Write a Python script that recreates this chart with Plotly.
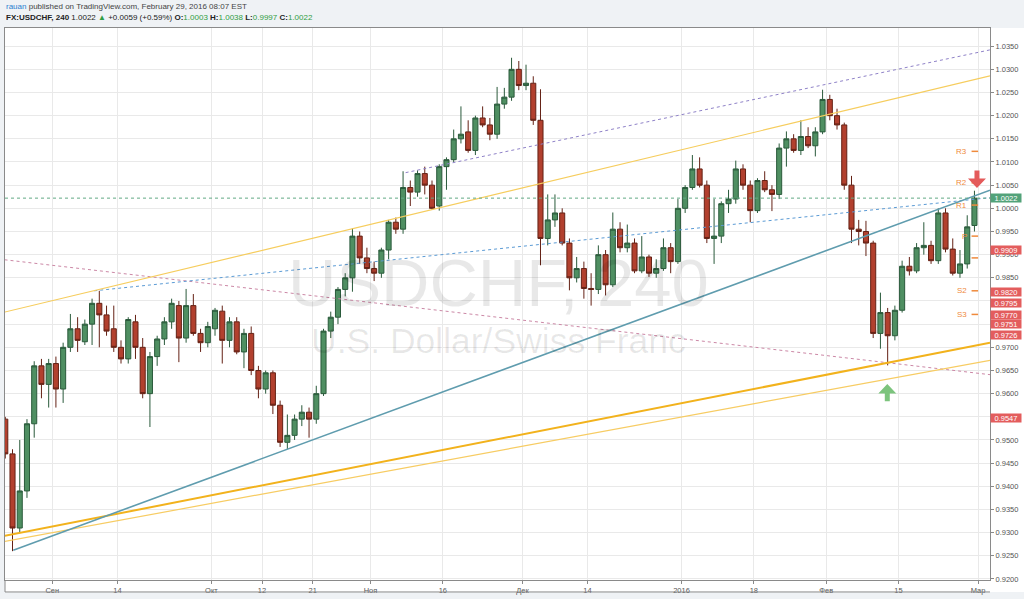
import plotly.graph_objects as go
import pandas as pd

# ---------------- data ----------------
# trading days shown on the chart (weekdays; no bars on Dec 25 / Jan 1)
days = [d for d in pd.bdate_range("2015-08-21", "2016-02-29")
        if d.strftime("%m-%d") not in ("12-25", "01-01")]

opens = [0.9545, 0.9470, 0.9310, 0.9390, 0.9535, 0.9660, 0.9620,
         0.9665, 0.9610, 0.9700, 0.9740, 0.9712, 0.9750, 0.9795, 0.9770, 0.9740, 0.9700, 0.9675, 0.9755, 0.9700, 0.9600,
         0.9680, 0.9718, 0.9755, 0.9790, 0.9720, 0.9790, 0.9730, 0.9710,
         0.9740, 0.9778, 0.9715, 0.9755, 0.9690, 0.9730, 0.9650, 0.9610, 0.9645, 0.9575, 0.9495, 0.9510, 0.9545, 0.9560,
         0.9545, 0.9600, 0.9735, 0.9765, 0.9825, 0.9850, 0.9940, 0.9893,
         0.9870, 0.9860, 0.9910, 0.9970, 0.9955, 1.0045, 1.0035, 1.0075, 1.0050, 1.0005, 1.0090, 1.0105, 1.0150, 1.0165,
         1.0125, 1.0195, 1.0180, 1.0160, 1.0225, 1.0240, 1.0300,
         1.0265, 1.0270, 1.0190, 0.9935, 0.9975, 0.9990, 0.9925, 0.9850, 0.9870, 0.9827, 0.9825, 0.9900, 0.9835, 0.9955,
         0.9915, 0.9925, 0.9865, 0.9895, 0.9860, 0.9870, 0.9915, 0.9885,
         1.0000, 1.0045, 1.0085, 1.0050, 0.9935, 0.9940, 1.0010, 1.0020, 1.0085, 1.0050, 0.9995, 1.0060, 1.0040, 1.0030,
         1.0130, 1.0150, 1.0125, 1.0155, 1.0135, 1.0165,
         1.0235, 1.0200, 1.0180, 1.0050, 0.9955, 0.9950, 0.9925, 0.9730, 0.9775, 0.9725, 0.9780, 0.9875, 0.9865, 0.9915,
         0.9920, 0.9887, 0.9990, 0.9912, 0.9860, 0.9880, 0.9963]
highs = [0.9550, 0.9480, 0.9500, 0.9545, 0.9670, 0.9675, 0.9675,
         0.9680, 0.9710, 0.9772, 0.9765, 0.9760, 0.9805, 0.9822, 0.9790, 0.9790, 0.9715, 0.9765, 0.9770, 0.9720, 0.9690,
         0.9725, 0.9765, 0.9805, 0.9800, 0.9826, 0.9815, 0.9740, 0.9755,
         0.9785, 0.9790, 0.9765, 0.9765, 0.9740, 0.9745, 0.9660, 0.9650, 0.9650, 0.9585, 0.9555, 0.9555, 0.9575, 0.9570,
         0.9617, 0.9740, 0.9777, 0.9830, 0.9860, 0.9957, 0.9950, 0.9915,
         0.9885, 0.9915, 0.9975, 0.9980, 1.0080, 1.0060, 1.0082, 1.0090, 1.0060, 1.0095, 1.0110, 1.0170, 1.0220, 1.0190,
         1.0200, 1.0220, 1.0195, 1.0262, 1.0260, 1.0325, 1.0318,
         1.0310, 1.0285, 1.0257, 1.0030, 1.0030, 1.0000, 0.9935, 0.9895, 0.9885, 0.9860, 0.9920, 0.9910, 0.9991, 0.9970,
         0.9965, 0.9935, 0.9940, 0.9900, 0.9890, 0.9935, 0.9925, 1.0020,
         1.0050, 1.0115, 1.0110, 1.0060, 1.0020, 1.0015, 1.0040, 1.0103, 1.0095, 1.0060, 1.0065, 1.0080, 1.0050, 1.0140,
         1.0166, 1.0160, 1.0190, 1.0175, 1.0175, 1.0256,
         1.0245, 1.0215, 1.0185, 1.0070, 0.9975, 0.9973, 0.9930, 0.9818, 0.9785, 0.9790, 0.9887, 0.9895, 0.9925, 0.9970,
         0.9930, 1.0000, 1.0000, 0.9935, 0.9910, 0.9985, 1.0038]
lows = [0.9460, 0.9260, 0.9300, 0.9375, 0.9505, 0.9590, 0.9570,
        0.9570, 0.9580, 0.9690, 0.9690, 0.9705, 0.9705, 0.9700, 0.9725, 0.9690, 0.9665, 0.9665, 0.9675, 0.9590, 0.9528,
        0.9660, 0.9705, 0.9740, 0.9668, 0.9710, 0.9725, 0.9690, 0.9700,
        0.9725, 0.9665, 0.9700, 0.9685, 0.9655, 0.9640, 0.9590, 0.9600, 0.9556, 0.9485, 0.9480, 0.9500, 0.9530, 0.9505,
        0.9535, 0.9595, 0.9720, 0.9750, 0.9810, 0.9820, 0.9880, 0.9860,
        0.9843, 0.9850, 0.9890, 0.9945, 0.9945, 1.0005, 1.0025, 1.0030, 0.9997, 0.9995, 1.0040, 1.0100, 1.0140, 1.0120,
        1.0115, 1.0175, 1.0147, 1.0150, 1.0215, 1.0232, 1.0255,
        1.0255, 1.0180, 0.9877, 0.9920, 0.9960, 0.9920, 0.9823, 0.9840, 0.9805, 0.9790, 0.9815, 0.9812, 0.9830, 0.9905,
        0.9905, 0.9860, 0.9860, 0.9852, 0.9850, 0.9865, 0.9860, 0.9880,
        0.9990, 1.0040, 1.0045, 0.9925, 0.9880, 0.9925, 0.9990, 1.0010, 1.0040, 0.9970, 0.9990, 1.0035, 0.9994, 1.0020,
        1.0090, 1.0120, 1.0115, 1.0130, 1.0112, 1.0160,
        1.0190, 1.0170, 1.0040, 0.9925, 0.9920, 0.9897, 0.9720, 0.9697, 0.9661, 0.9715, 0.9775, 0.9855, 0.9860, 0.9900,
        0.9880, 0.9880, 0.9905, 0.9855, 0.9850, 0.9870, 0.9950]
closes = [0.9470, 0.9310, 0.9390, 0.9535, 0.9660, 0.9620, 0.9665,
          0.9610, 0.9700, 0.9740, 0.9715, 0.9750, 0.9795, 0.9770, 0.9735, 0.9700, 0.9675, 0.9760, 0.9700, 0.9600, 0.9680,
          0.9718, 0.9755, 0.9795, 0.9720, 0.9790, 0.9730, 0.9710, 0.9745,
          0.9780, 0.9715, 0.9755, 0.9690, 0.9730, 0.9650, 0.9610, 0.9645, 0.9575, 0.9495, 0.9510, 0.9545, 0.9560, 0.9545,
          0.9600, 0.9735, 0.9765, 0.9825, 0.9850, 0.9940, 0.9893, 0.9870,
          0.9860, 0.9910, 0.9970, 0.9955, 1.0045, 1.0035, 1.0075, 1.0050, 1.0000, 1.0090, 1.0105, 1.0150, 1.0160, 1.0125,
          1.0195, 1.0180, 1.0160, 1.0225, 1.0240, 1.0300, 1.0265,
          1.0270, 1.0190, 0.9935, 0.9975, 0.9990, 0.9925, 0.9850, 0.9870, 0.9827, 0.9825, 0.9900, 0.9835, 0.9955, 0.9915,
          0.9925, 0.9865, 0.9895, 0.9860, 0.9870, 0.9915, 0.9885, 1.0000,
          1.0045, 1.0085, 1.0050, 0.9935, 0.9940, 1.0010, 1.0020, 1.0085, 1.0050, 0.9995, 1.0060, 1.0040, 1.0030, 1.0130,
          1.0150, 1.0125, 1.0155, 1.0135, 1.0165, 1.0235,
          1.0200, 1.0180, 1.0050, 0.9955, 0.9950, 0.9925, 0.9730, 0.9775, 0.9725, 0.9780, 0.9875, 0.9865, 0.9915, 0.9920,
          0.9887, 0.9990, 0.9912, 0.9860, 0.9880, 0.9960, 1.0022]

# x-axis labels (first trading day of each labelled period)
tick_dates = ["2015-09-01", "2015-09-14", "2015-10-01", "2015-10-12", "2015-10-21", "2015-11-02",
              "2015-11-16", "2015-12-01", "2015-12-14", "2016-01-04", "2016-01-18", "2016-02-01",
              "2016-02-15", "2016-03-01"]
tick_text = ["Сен", "14", "Окт", "12", "21", "Ноя", "16", "Дек", "14", "2016", "18", "Фев", "15", "Мар"]

# price-axis tick labels
price_ticks = [0.9200 + 0.005 * n for n in range(24)]

# drawn trend lines: (start day, start price, end day, end price)
teal_line = [1.6, 0.9262, 136.65, 1.0039]
gold_thick = [0.4, 0.9293, 136.65, 0.9710]
gold_thin = [0.4, 0.9281, 136.65, 0.9672]
yellow_upper = [0.4, 0.9776, 136.65, 1.0286]
purple_dotted = [55.85, 1.0077, 136.65, 1.0342]
blue_dotted = [12.8, 0.9822, 136.65, 1.0023]
pink_dotted = [0.4, 0.9889, 136.65, 0.9641]

last_price = 1.0022

# price labels on the scale
scale_labels = [1.0022, 0.9909, 0.9820, 0.9795, 0.9770, 0.9751, 0.9726, 0.9547]
scale_colors = ["#52a279", "#e35d5d", "#e35d5d", "#e35d5d", "#e35d5d", "#e35d5d", "#e35d5d", "#e35d5d"]

# pivot points
pivot_names = ["R3", "R2", "R1", "P", "S1", "S2", "S3"]
pivot_vals = [1.0123, 1.0055, 1.0007, 0.9940, 0.9893, 0.9822, 0.9771]
pivot_show_label = [True, True, True, True, False, True, True]

# arrow marks: (day, price of tip)
arrow_down = (134.85, 1.0044)
arrow_up = (122.45, 0.9621)

# ---------------- layout geometry ----------------
W, H = 1024, 599
ML, MR, MT, MB = 4, 34, 28, 17
PW, PH = W - ML - MR, H - MT - MB
x_range = [0.461, 136.65]
y_range = [0.91978, 1.03892]
px_x = (x_range[1] - x_range[0]) / PW     # days per pixel
px_y = (y_range[1] - y_range[0]) / PH     # price per pixel

xs = [i + 0.5 for i in range(len(days))]
day_str = [d.strftime("%Y-%m-%d") for d in days]
tick_pos = [day_str.index(t) if t in day_str else len(day_str) for t in tick_dates]

FONT = "Liberation Sans, Arial, sans-serif"
fig = go.Figure()

fig.add_trace(go.Candlestick(
    x=xs, open=opens, high=highs, low=lows, close=closes,
    increasing=dict(fillcolor="#4f8f62", line=dict(color="#2a5a3b", width=1)),
    decreasing=dict(fillcolor="#b2402e", line=dict(color="#642115", width=1)),
    whiskerwidth=0, showlegend=False, hoverinfo="skip"))


def add_line(seg, color, width, dash="solid"):
    fig.add_trace(go.Scatter(x=[seg[0], seg[2]], y=[seg[1], seg[3]], mode="lines",
                             line=dict(color=color, width=width, dash=dash),
                             showlegend=False, hoverinfo="skip"))


add_line(pink_dotted, "#cc88a6", 1, "dot")
add_line(blue_dotted, "#5b9bd5", 1, "dot")
add_line(purple_dotted, "#8f82c8", 1, "dot")
add_line(yellow_upper, "#f6cd5e", 1.2)
add_line(gold_thin, "#f7cc63", 1.2)
add_line(gold_thick, "#f2b21c", 2)
add_line(teal_line, "#5f9cae", 1.6)
add_line([x_range[0], last_price, x_range[1], last_price], "#62a985", 1, "dot")

# pivot marks
for name, v, show in zip(pivot_names, pivot_vals, pivot_show_label):
    fig.add_trace(go.Scatter(x=[134.1, 135.0], y=[v, v], mode="lines",
                             line=dict(color="#ef8a3c", width=1.5), showlegend=False, hoverinfo="skip"))
    if show:
        fig.add_annotation(x=133.75, y=v, xref="x", yref="y", text=name, showarrow=False,
                           xanchor="right", yanchor="middle",
                           font=dict(family=FONT, size=8, color="#ef8a3c"))


def arrow_path(tip, direction):
    # block arrow: sizes in pixels, converted into data units
    x0, y0 = tip
    s = -1 if direction == "down" else 1
    pts = [(0, 0), (9, 9.5), (2.5, 9.5), (2.5, 17.5), (-2.5, 17.5), (-2.5, 9.5), (-9, 9.5)]
    coords = [(x0 + dx * px_x, y0 - s * dy * px_y) for dx, dy in pts]
    return "M " + " L ".join(f"{a},{b}" for a, b in coords) + " Z"


fig.add_shape(type="path", path=arrow_path(arrow_down, "down"), xref="x", yref="y",
              fillcolor="#e45a5a", line=dict(width=0))
fig.add_shape(type="path", path=arrow_path(arrow_up, "up"), xref="x", yref="y",
              fillcolor="#7cc47d", line=dict(width=0))

# white strips for the axis panels and frame lines
ys = -12 / PH
xr = (W - ML) / PW
fig.add_shape(type="rect", xref="paper", yref="paper", x0=1, x1=xr, y0=ys, y1=1,
              fillcolor="white", line=dict(width=0), layer="below")
fig.add_shape(type="rect", xref="paper", yref="paper", x0=0, x1=1, y0=ys, y1=0,
              fillcolor="white", line=dict(width=0), layer="below")
fig.add_shape(type="line", xref="paper", yref="paper", x0=0, x1=1, y0=ys, y1=ys,
              line=dict(color="#8a8a8a", width=1))
fig.add_shape(type="line", xref="paper", yref="paper", x0=0, x1=0, y0=ys, y1=0,
              line=dict(color="#8a8a8a", width=1))

# labels on price scale
for v, c in zip(scale_labels, scale_colors):
    fig.add_annotation(x=1.0, y=v, xref="paper", yref="y", text=f"{v:.4f}", showarrow=False,
                       xanchor="left", yanchor="middle", bgcolor=c, width=30, height=8, borderpad=0,
                       align="center", font=dict(family=FONT, size=7.5, color="white"))

# watermark
fig.add_annotation(x=(498 - ML) / PW, y=(H - MB - 283) / PH, xref="paper", yref="paper",
                   text="USDCHF, 240", showarrow=False, xanchor="center", yanchor="middle",
                   font=dict(family=FONT, size=67, color="rgba(0,0,0,0.09)"))
fig.add_annotation(x=(498 - ML) / PW, y=(H - MB - 342.5) / PH, xref="paper", yref="paper",
                   text="U.S. Dollar/Swiss Franc", showarrow=False, xanchor="center", yanchor="middle",
                   font=dict(family=FONT, size=35.5, color="rgba(0,0,0,0.09)"))

# header
G = "#2f9e44"
fig.add_annotation(x=(3 - ML) / PW, y=(H - MB - 6.5) / PH, xref="paper", yref="paper",
                   text="<span style='color:#2b7fd0'>rauan</span> published on TradingView.com, February 29, 2016 08:07 EST",
                   showarrow=False, xanchor="left", yanchor="middle",
                   font=dict(family=FONT, size=8, color="#444"))
fig.add_annotation(x=(3 - ML) / PW, y=(H - MB - 17) / PH, xref="paper", yref="paper",
                   text=(f"<b>FX:USDCHF, 240</b> 1.0022 <span style='color:{G}'>▲</span> +0.0059 (+0.59%) "
                         f"<b>O:</b><span style='color:{G}'>1.0003</span> <b>H:</b><span style='color:{G}'>1.0038</span> "
                         f"<b>L:</b><span style='color:{G}'>0.9997</span> <b>C:</b><span style='color:{G}'>1.0022</span>"),
                   showarrow=False, xanchor="left", yanchor="middle",
                   font=dict(family=FONT, size=8, color="#222"))

fig.update_layout(
    width=W, height=H, margin=dict(l=ML, r=MR, t=MT, b=MB, pad=0),
    paper_bgcolor="#eff2f5", plot_bgcolor="white", showlegend=False, hovermode=False,
    boxgap=0.3, boxgroupgap=0,
    xaxis=dict(range=x_range, tickvals=tick_pos, ticktext=tick_text, showgrid=True, gridcolor="#e9e9e9",
               gridwidth=1, zeroline=False, showline=True, mirror=True, linecolor="#8a8a8a", linewidth=1,
               ticks="outside", ticklen=3, tickcolor="#8a8a8a",
               tickfont=dict(family=FONT, size=7.5, color="#555"),
               rangeslider=dict(visible=False), fixedrange=True),
    yaxis=dict(range=y_range, side="right", tickvals=price_ticks, ticktext=[f"{v:.4f}" for v in price_ticks],
               showgrid=True, gridcolor="#e9e9e9", gridwidth=1, zeroline=False, showline=True, mirror=True,
               linecolor="#8a8a8a", linewidth=1, ticks="outside", ticklen=3, tickcolor="#8a8a8a",
               tickfont=dict(family=FONT, size=7.5, color="#555"), fixedrange=True),
)

fig.write_html("out.html", config={"displayModeBar": False},
               post_script="document.body.style.margin='0px';document.body.style.overflow='hidden';")
